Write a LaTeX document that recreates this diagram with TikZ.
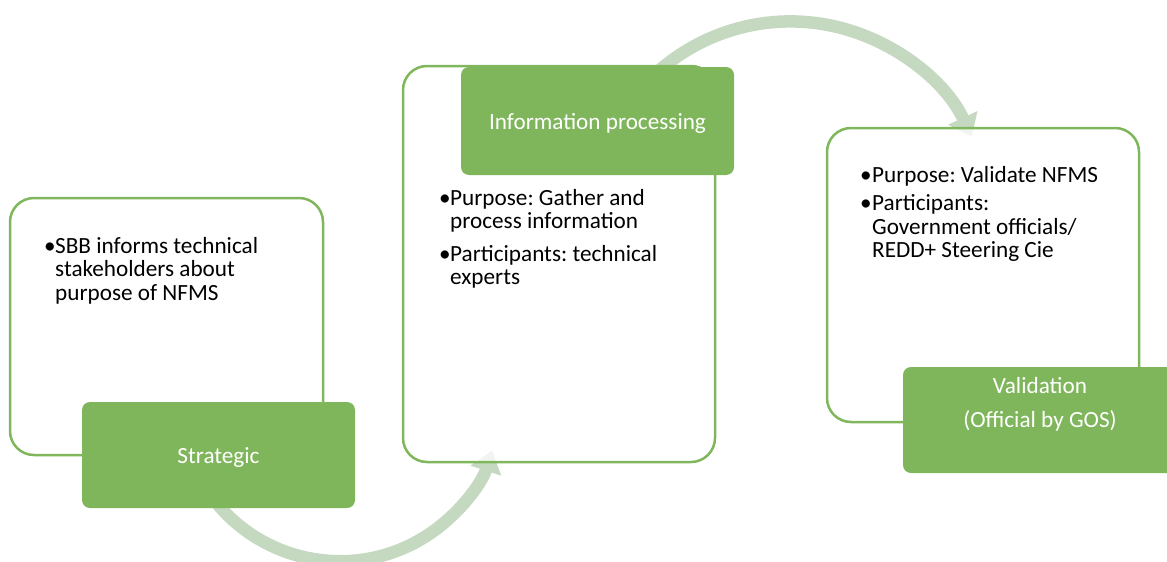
\documentclass[tikz,border=0pt]{standalone}
\usepackage{fontspec}
\setmainfont{Carlito}
\usetikzlibrary{arrows.meta}
\frenchspacing
\definecolor{gfill}{HTML}{7FB65B}
\definecolor{gline}{HTML}{80B75C}
\definecolor{arrc}{HTML}{C5D9C0}
\tikzset{
  obox/.style={draw=gline, line width=2.5pt, rounded corners=24pt, minimum width=#1, inner sep=0pt, outer sep=0pt},
  gbox/.style={fill=gfill, draw=none, rounded corners=8pt, minimum width=273pt, minimum height=106pt, inner sep=0pt, outer sep=0pt},
  lbl/.style={text=white, font=\fontsize{23.2}{23.5}\selectfont, inner sep=0pt, anchor=base},
  btxt/.style={text=black, font=\fontsize{23.2}{23.5}\selectfont, inner sep=0pt, anchor=base west},
  arr/.style={draw=arrc, line width=12.5pt, -{Triangle[length=21pt,width=31pt]}},
}
\begin{document}
\begin{tikzpicture}[x=1pt,y=-1pt]
\useasboundingbox (0,0) rectangle (1167,562);
\clip (0,0) rectangle (1167,562);
% curved arrows
\coordinate (a1s) at (209,493);
\coordinate (a2s) at (649,80);
\draw[arr] (a1s) arc[start angle=145, end angle=18, radius=160];
\draw[arr] (a2s) arc[start angle=-135, end angle=-25, radius=200];
% fade the arrow heads inside the boxes
\fill[white, opacity=0.75] (460,440) rectangle (508,461);
\fill[white, opacity=0.75] (938,129) rectangle (992,148);
% outline boxes
\node[obox=313pt, minimum height=257pt] (b1) at (166.5,326.5) {};
\node[obox=312pt, minimum height=396pt] (b2) at (559,264) {};
\node[obox=312pt, minimum height=294pt] (b3) at (983,275) {};
% green boxes
\node[gbox] (strat) at (218.5,455) {};
\node[gbox, minimum height=108pt] (info) at (597.5,121) {};
\node[gbox] (valid) at (1039.5,420) {};
% labels
\node[lbl] (tstrat) at (218.5,463) {Strategic};
\node[lbl] (tinfo) at (597.5,129) {Information processing};
\node[lbl] (tvalid1) at (1040,393) {Validation};
\node[lbl] (tvalid2) at (1040,427) {(Official by GOS)};
% bullet texts
\node[btxt] (t1) at (44,253) {\begin{tabular}[t]{@{}p{11pt}@{}l@{}}
\textbullet&SBB informs technical\\
&stakeholders about\\
&purpose of NFMS
\end{tabular}};
\node[btxt] (t2) at (439,205) {\begin{tabular}[t]{@{}p{11pt}@{}l@{}}
\textbullet&Purpose: Gather and\\
&process information\\[9pt]
\textbullet&Participants: technical\\
&experts
\end{tabular}};
\node[btxt] (t3) at (860,182) {\begin{tabular}[t]{@{}p{12pt}@{}l@{}}
\textbullet&Purpose: Validate NFMS\\[5pt]
\textbullet&Participants:\\
&Government officials/\\
&REDD+ Steering Cie
\end{tabular}};
\end{tikzpicture}
\end{document}
